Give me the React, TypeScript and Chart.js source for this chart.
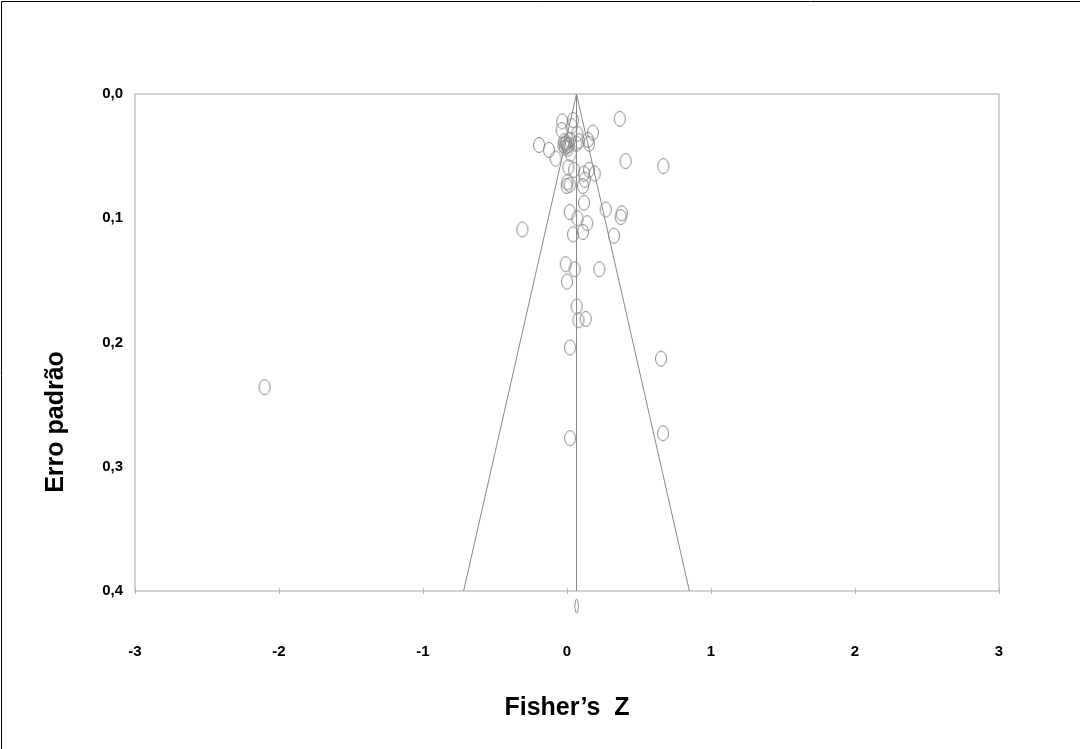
import React, { useEffect, useRef } from 'react';
import { Chart, registerables } from 'chart.js';

Chart.register(...registerables);

// Study effect sizes (Fisher's Z) and their standard errors
const STUDY_Z = [
  0.366, -0.033, 0.042, -0.037, 0.032, 0.180, 0.146, 0.153, 0.072, -0.194,
  -0.125, -0.079, -0.020, -0.010, 0.000, -0.015, 0.005, -0.005, 0.010, -0.025,
  0.020, 0.065, 0.026, 0.083, 0.407, 0.669, 0.009, 0.049, 0.153, 0.118,
  0.192, 0.002, 0.019, -0.002, 0.123, 0.111, 0.118, 0.019, 0.269, 0.380,
  0.373, 0.072, 0.141, -0.310, 0.042, 0.111, 0.326, -0.009, 0.053, 0.224,
  0.000, 0.067, 0.079, 0.130, 0.021, 0.653, 0.021, 0.667, -2.100,
];
const STUDY_SE = [
  0.020, 0.022, 0.021, 0.029, 0.026, 0.031, 0.037, 0.040, 0.032, 0.041,
  0.045, 0.052, 0.038, 0.040, 0.042, 0.043, 0.044, 0.039, 0.041, 0.041,
  0.037, 0.040, 0.048, 0.038, 0.054, 0.058, 0.059, 0.061, 0.061, 0.064,
  0.064, 0.071, 0.073, 0.074, 0.069, 0.074, 0.0875, 0.095, 0.093, 0.096,
  0.099, 0.100, 0.104, 0.109, 0.113, 0.111, 0.114, 0.137, 0.141, 0.141,
  0.151, 0.171, 0.182, 0.181, 0.204, 0.213, 0.277, 0.273, 0.236,
];

// Summary estimate diamond (below the axis): outline vertices
const DIAMOND_Z = [0.053, 0.066, 0.079, 0.066, 0.053];
const DIAMOND_SE = [0.4122, 0.4065, 0.4122, 0.4179, 0.4122];

// Funnel (pseudo 95% limits) and centre line
const FUNNEL_Z = [-0.718, 0.066, 0.850];
const FUNNEL_SE = [0.4, 0.0, 0.4];
const CENTER_Z = [0.066, 0.066];
const CENTER_SE = [0.0, 0.4];

const X_TICKS = ['-3', '-2', '-1', '0', '1', '2', '3'];
const Y_TICKS = ['0,0', '0,1', '0,2', '0,3', '0,4'];
const X_TITLE = 'Fisher’s  Z';
const Y_TITLE = 'Erro padrão';

const FONT = '"Liberation Sans", Arial, Helvetica, sans-serif';

function makeEllipse(w: number, h: number, rx: number, ry: number, color: string) {
  const c = document.createElement('canvas');
  c.width = w;
  c.height = h;
  const ctx = c.getContext('2d')!;
  ctx.strokeStyle = color;
  ctx.lineWidth = 1;
  ctx.beginPath();
  ctx.ellipse(w / 2, h / 2, rx, ry, 0, 0, Math.PI * 2);
  ctx.stroke();
  return c;
}

const framePlugin = {
  id: 'frame',
  beforeDatasetsDraw(chart: any) {
    const { ctx, chartArea } = chart;
    ctx.save();
    ctx.strokeStyle = '#c6c6c6';
    ctx.lineWidth = 1.5;
    ctx.strokeRect(chartArea.left, chartArea.top, chartArea.right - chartArea.left, chartArea.bottom - chartArea.top);
    // tick marks crossing the bottom axis
    const xs = chart.scales.x;
    ctx.strokeStyle = '#b8b8b8';
    ctx.lineWidth = 1;
    xs.ticks.forEach((t: any) => {
      const px = Math.round(xs.getPixelForValue(t.value)) + 0.5;
      ctx.beginPath();
      ctx.moveTo(px, chartArea.bottom - 3);
      ctx.lineTo(px, chartArea.bottom + 3);
      ctx.stroke();
    });
    ctx.restore();
  },
  afterDraw(chart: any) {
    const { ctx, chartArea } = chart;
    ctx.save();
    ctx.fillStyle = '#000';
    ctx.font = `bold 25px ${FONT}`;
    ctx.textAlign = 'center';
    ctx.textBaseline = 'middle';
    ctx.fillText(X_TITLE, (chartArea.left + chartArea.right) / 2, 708);
    ctx.translate(56, 422);
    ctx.rotate(-Math.PI / 2);
    ctx.fillText(Y_TITLE, 0, 0);
    ctx.restore();
    // outer frame
    ctx.save();
    ctx.strokeStyle = '#000';
    ctx.lineWidth = 1;
    ctx.beginPath();
    ctx.moveTo(1.5, chart.height);
    ctx.lineTo(1.5, 1.5);
    ctx.lineTo(chart.width, 1.5);
    ctx.stroke();
    ctx.restore();
  },
};

export default function App() {
  const ref = useRef<HTMLCanvasElement>(null);

  useEffect(() => {
    const circle = makeEllipse(14, 18, 5.5, 7.5, '#8c8c8c');

    const chart = new Chart(ref.current!, {
      type: 'scatter',
      data: {
        datasets: [
          {
            type: 'line',
            data: FUNNEL_Z.map((z, i) => ({ x: z, y: FUNNEL_SE[i] })),
            borderColor: '#8a8a8a',
            borderWidth: 1,
            pointRadius: 0,
            fill: false,
            tension: 0,
          },
          {
            type: 'line',
            data: CENTER_Z.map((z, i) => ({ x: z, y: CENTER_SE[i] })),
            borderColor: '#8a8a8a',
            borderWidth: 1,
            pointRadius: 0,
            fill: false,
          },
          {
            data: STUDY_Z.map((z, i) => ({ x: z, y: STUDY_SE[i] })),
            pointStyle: circle as any,
            pointRadius: 7,
          },
          {
            type: 'line',
            data: DIAMOND_Z.map((z, i) => ({ x: z, y: DIAMOND_SE[i] })),
            borderColor: '#8c8c8c',
            borderWidth: 1,
            pointRadius: 0,
            fill: false,
            tension: 0.4,
            clip: false as any,
          },
        ] as any,
      },
      options: {
        animation: false,
        responsive: false,
        devicePixelRatio: 1,
        layout: { padding: { left: 0, top: 94, right: 81, bottom: 0 } },
        plugins: {
          legend: { display: false },
          tooltip: { enabled: false },
        },
        scales: {
          x: {
            type: 'linear',
            min: -3,
            max: 3,
            afterFit: (s: any) => { s.height = 158; },
            border: { display: false },
            grid: {
              display: false,
              drawTicks: true,
              tickLength: 4,
            },
            ticks: {
              stepSize: 1,
              padding: 48,
              color: '#000',
              font: { family: FONT, size: 15, weight: 'bold' },
              callback: (v: any) => X_TICKS[Math.round(Number(v)) + 3],
              maxRotation: 0,
            },
          },
          y: {
            type: 'linear',
            min: 0,
            max: 0.4,
            reverse: true,
            afterFit: (s: any) => { s.width = 135; },
            border: { display: false },
            grid: { display: false, drawTicks: false },
            ticks: {
              stepSize: 0.1,
              padding: 12,
              color: '#000',
              font: { family: FONT, size: 15, weight: 'bold' },
              callback: (v: any) => Y_TICKS[Math.round(Number(v) * 10)],
            },
          },
        },
      } as any,
      plugins: [framePlugin],
    });
    return () => chart.destroy();
  }, []);

  return (
    <div style={{ position: 'fixed', left: 0, top: 0, width: 1080, height: 749, background: '#fff' }}>
      <canvas ref={ref} width={1080} height={749} style={{ display: 'block', width: 1080, height: 749 }} />
    </div>
  );
}
